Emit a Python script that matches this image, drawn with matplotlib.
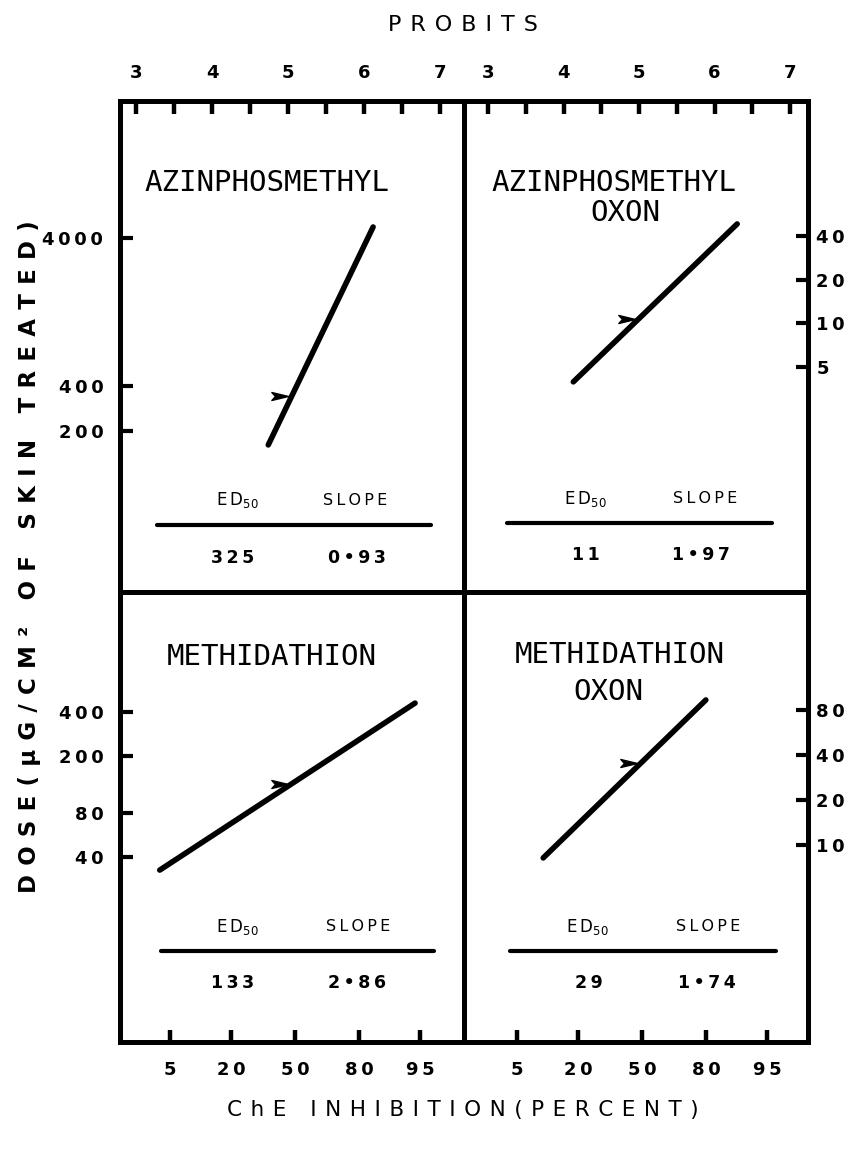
import numpy as np
import matplotlib
matplotlib.use("Agg")
import matplotlib.pyplot as plt
from matplotlib.path import Path
from matplotlib.ticker import NullLocator
from statistics import NormalDist

# ---------------- data ----------------
title_line1 = ["AZINPHOSMETHYL", "AZINPHOSMETHYL", "METHIDATHION", "METHIDATHION"]
title_line2 = ["", "OXON", "", "OXON"]

# regression line end points: x in probits, y in dose (ug/cm2)
line_probit = [[4.74, 6.12], [4.13, 6.30], [3.22, 6.58], [3.70, 5.84]]
line_dose = [[161, 4750], [3.94, 48.4], [32.5, 461], [8.19, 93.3]]
# dose at which the arrow head points to the line
arrow_dose = [344, 10.7, 128, 35.3]

ed50_labels = ["325", "11", "133", "29"]
slope_labels = ["0\u202293", "1\u202297", "2\u202286", "1\u202274"]

dose_ticks = [[200, 400, 4000], [5, 10, 20, 40], [40, 80, 200, 400], [10, 20, 40, 80]]
probit_ticks = [3, 4, 5, 6, 7]
probit_minor = [3.5, 4.5, 5.5, 6.5]
percent_ticks = [5, 20, 50, 80, 95]

# ---------------- layout ----------------
W, H = 856, 1150
L, M, R = 120, 464, 808
T, C, B = 101, 592, 1042
boxes = [(L, T, M, C), (M, T, R, C), (L, C, M, B), (M, C, R, B)]
xlims = [(2.789, 7.316), (2.682, 7.238), (2.697, 7.224), (2.658, 7.184)]
ylims = [(16.4, 33600), (0.140, 341), (2.12, 2690), (0.481, 492)]

title_pos = [(0.427, 0.833), (0.437, 0.833), (0.442, 0.856), (0.454, 0.860)]
title2_pos = [None, (0.468, 0.772), None, (0.419, 0.778)]
table_y = [(0.187, 0.136, 0.069), (0.190, 0.141, 0.075),
           (0.256, 0.202, 0.131), (0.256, 0.202, 0.131)]
table_x = [(0.340, 0.683, 0.326, 0.689, 0.108, 0.904),
           (0.353, 0.702, 0.353, 0.688, 0.124, 0.896),
           (0.340, 0.692, 0.326, 0.689, 0.119, 0.913),
           (0.358, 0.711, 0.364, 0.705, 0.133, 0.908)]

FRAME_LW = 3.6
arrow_path = Path([(0, 0), (-1, 0.24), (-0.78, 0), (-1, -0.24), (0, 0)],
                  [Path.MOVETO, Path.LINETO, Path.LINETO, Path.LINETO, Path.CLOSEPOLY])


def spaced(s, n=1):
    return ("\u2009" * n).join(s)


plt.rcParams["font.family"] = ["DejaVu Sans"]
fig = plt.figure(figsize=(W / 100, H / 100), dpi=100)

tick_font = dict(fontsize=13, fontweight="bold")

for i, (x0, y0, x1, y1) in enumerate(boxes):
    ax = fig.add_axes([x0 / W, 1 - y1 / H, (x1 - x0) / W, (y1 - y0) / H])
    ax.set_yscale("log")
    ax.set_xlim(*xlims[i])
    ax.set_ylim(*ylims[i])
    for s in ax.spines.values():
        s.set_linewidth(FRAME_LW)
    ax.patch.set_alpha(0)

    # y axis
    ax.yaxis.set_minor_locator(NullLocator())
    ax.set_yticks(dose_ticks[i], [spaced(str(v), 1) for v in dose_ticks[i]], **tick_font)
    if i % 2 == 1:
        ax.yaxis.tick_right()
        ax.tick_params(axis="y", which="both", direction="in", length=9, width=3,
                       pad=6, right=True, left=False)
    else:
        ax.tick_params(axis="y", which="both", direction="in", length=9, width=3,
                       pad=12, left=True, right=False)

    # x axis
    if i < 2:
        ax.xaxis.tick_top()
        ax.set_xticks(probit_ticks, [str(v) for v in probit_ticks], **tick_font)
        ax.set_xticks(probit_minor, minor=True)
        ax.tick_params(axis="x", which="both", direction="in", length=9, width=3.2,
                       pad=14, top=True, bottom=False)
    else:
        pos = [NormalDist().inv_cdf(p / 100) + 5 for p in percent_ticks]
        ax.set_xticks(pos, [spaced(str(p), 1) for p in percent_ticks], **tick_font)
        ax.xaxis.set_minor_locator(NullLocator())
        ax.tick_params(axis="x", which="both", direction="in", length=9, width=3.2,
                       pad=14, bottom=True, top=False)

    # regression line
    ax.plot(line_probit[i], line_dose[i], color="black", lw=4.0,
            solid_capstyle="round")
    # arrow pointing at the line
    xa = np.interp(np.log10(arrow_dose[i]), np.log10(line_dose[i]), line_probit[i])
    ax.plot([xa - 0.045], [arrow_dose[i]], marker=arrow_path, markersize=24,
            color="black", linestyle="none")

    # titles
    tx, ty = title_pos[i]
    ax.text(tx, ty, title_line1[i], transform=ax.transAxes, ha="center", va="center",
            family="DejaVu Sans Mono", fontsize=21)
    if title2_pos[i] is not None:
        tx2, ty2 = title2_pos[i]
        ax.text(tx2, ty2, title_line2[i], transform=ax.transAxes, ha="center",
                va="center", family="DejaVu Sans Mono", fontsize=21)

    # table
    hy, ly, vy = table_y[i]
    ex, sx, evx, svx, lx0, lx1 = table_x[i]
    ax.text(ex, hy, "E\u2009D$_{50}$", transform=ax.transAxes, ha="center", va="center",
            fontsize=12)
    ax.text(sx, hy, spaced("SLOPE"), transform=ax.transAxes, ha="center", va="center",
            fontsize=11.5)
    ax.plot([lx0, lx1], [ly, ly], transform=ax.transAxes, color="black", lw=3.0,
            solid_capstyle="round")
    ax.text(evx, vy, spaced(ed50_labels[i], 1), transform=ax.transAxes, ha="center",
            va="center", fontsize=12.5, fontweight="bold")
    ax.text(svx, vy, spaced(slope_labels[i], 1), transform=ax.transAxes, ha="center",
            va="center", fontsize=12.5, fontweight="bold")


fig.text(0.541, 0.978, spaced("PROBITS", 2), ha="center", va="center", fontsize=16)
fig.text(0.541, 0.035, spaced("ChE INHIBITION(PERCENT)", 2), ha="center",
         va="center", fontsize=15.5)
fig.text(0.034, 0.516, spaced("DOSE(\u03bcG/CM\u00b2 OF SKIN TREATED)", 2), ha="center",
         va="center", rotation=90, fontsize=16.5, fontweight="bold")

fig.savefig("out.png", dpi=100, facecolor="white")
